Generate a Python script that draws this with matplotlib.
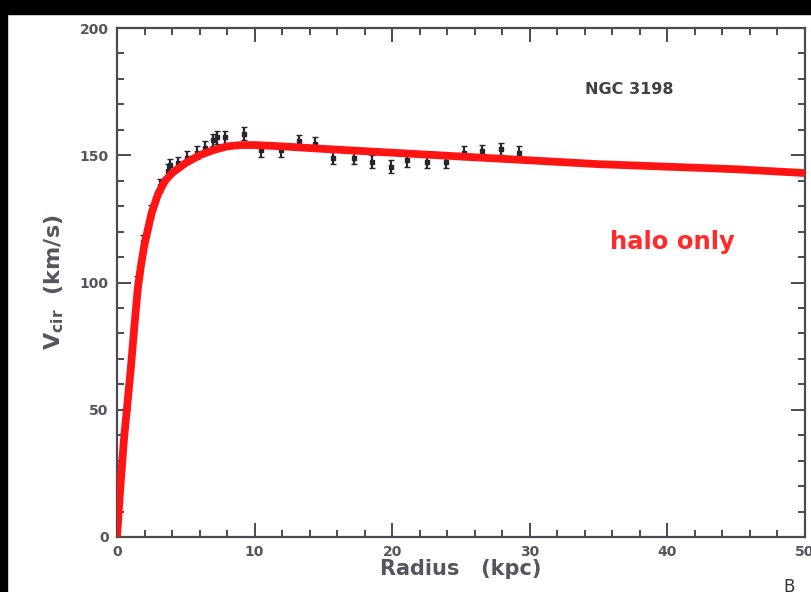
import matplotlib
matplotlib.use("Agg")
import matplotlib.pyplot as plt
from matplotlib.patches import Rectangle
from matplotlib.ticker import MultipleLocator

# Observed rotation-curve points (kpc, km/s)
obs_r = [1.45, 1.9, 2.5, 3.1, 3.7, 3.85, 4.4, 5.1, 5.8, 6.4, 7.0, 7.3, 7.85,
         9.2, 10.5, 11.9, 13.2, 14.4, 15.7, 17.2, 18.5, 19.9, 21.1, 22.5,
         23.9, 25.2, 26.5, 27.9, 29.2]
obs_v = [100, 116, 128, 138, 144, 146, 147, 149, 151, 153, 156, 157, 157,
         158.5, 152, 152, 155.5, 154.5, 149, 149, 147.5, 145.5, 148, 147.5,
         147.5, 151, 151.5, 152.5, 151]
obs_err = [2.5] * len(obs_r)

# Halo-only model curve
halo_r = [0, 0.25, 0.5, 0.75, 1.0, 1.25, 1.5, 1.75, 2.0, 2.5, 3.0, 3.5, 4.0,
          5.0, 6.0, 7.0, 8.0, 9.0, 10.0, 12.0, 15.0, 20.0, 25.0, 30.0, 35.0,
          40.0, 45.0, 50.0]
halo_v = [0, 20, 38, 52, 66, 82, 97, 107, 115, 127, 135, 140, 143,
          147, 150, 152, 153.5, 154, 154, 153.5, 152.5, 151, 149.5, 148,
          146.5, 145.5, 144.5, 143]

W, H = 811, 592
fig = plt.figure(figsize=(W / 100, H / 100), dpi=100, facecolor="white")
# black video borders
fig.patches.append(Rectangle((0, 1 - 14 / H), 1, 14 / H, transform=fig.transFigure,
                             color="black", zorder=0))
fig.patches.append(Rectangle((0, 0), 7 / W, 1, transform=fig.transFigure,
                             color="black", zorder=0))

ax = fig.add_axes([117 / W, 55 / H, 688 / W, 509 / H])
ax.set_xlim(0, 50)
ax.set_ylim(0, 200)

ax.errorbar(obs_r, obs_v, yerr=obs_err, fmt="s", ms=3.5, color="#25252f",
            ecolor="#25252f", elinewidth=1.6, capsize=2.2, zorder=2)
ax.plot(halo_r, halo_v, color="#ff1414", lw=5.6, solid_capstyle="round", zorder=3)

grey = "#4a4a55"
ax.xaxis.set_major_locator(MultipleLocator(10))
ax.xaxis.set_minor_locator(MultipleLocator(2))
ax.yaxis.set_major_locator(MultipleLocator(50))
ax.yaxis.set_minor_locator(MultipleLocator(10))
ax.tick_params(which="both", direction="in", top=True, right=True, colors=grey,
               width=1.4)
ax.tick_params(which="major", length=10, labelsize=10, pad=6)
ax.tick_params(which="minor", length=5)
for lab in ax.get_xticklabels() + ax.get_yticklabels():
    lab.set_fontweight("bold")
    lab.set_color("#555560")
for s in ax.spines.values():
    s.set_color(grey)
    s.set_linewidth(1.6)

ax.set_xlabel("Radius   (kpc)", fontsize=15, fontweight="bold", color="#555560",
              labelpad=0)
ax.set_ylabel(r"V$_{\mathbf{cir}}$  (km/s)", fontsize=16, fontweight="bold",
              color="#555560", labelpad=10)

ax.text(34, 176, "NGC 3198", fontsize=11.5, fontweight="bold", color="#404048",
        ha="left", va="center")
ax.text(35.8, 116, "halo only", fontsize=17.5, fontweight="bold", color="#ff2a2a",
        ha="left", va="center")

fig.text(783 / W, -4 / H, "B", fontsize=12, color="#333333", ha="left", va="bottom")

fig.savefig("out.png", dpi=100, facecolor=fig.get_facecolor())
